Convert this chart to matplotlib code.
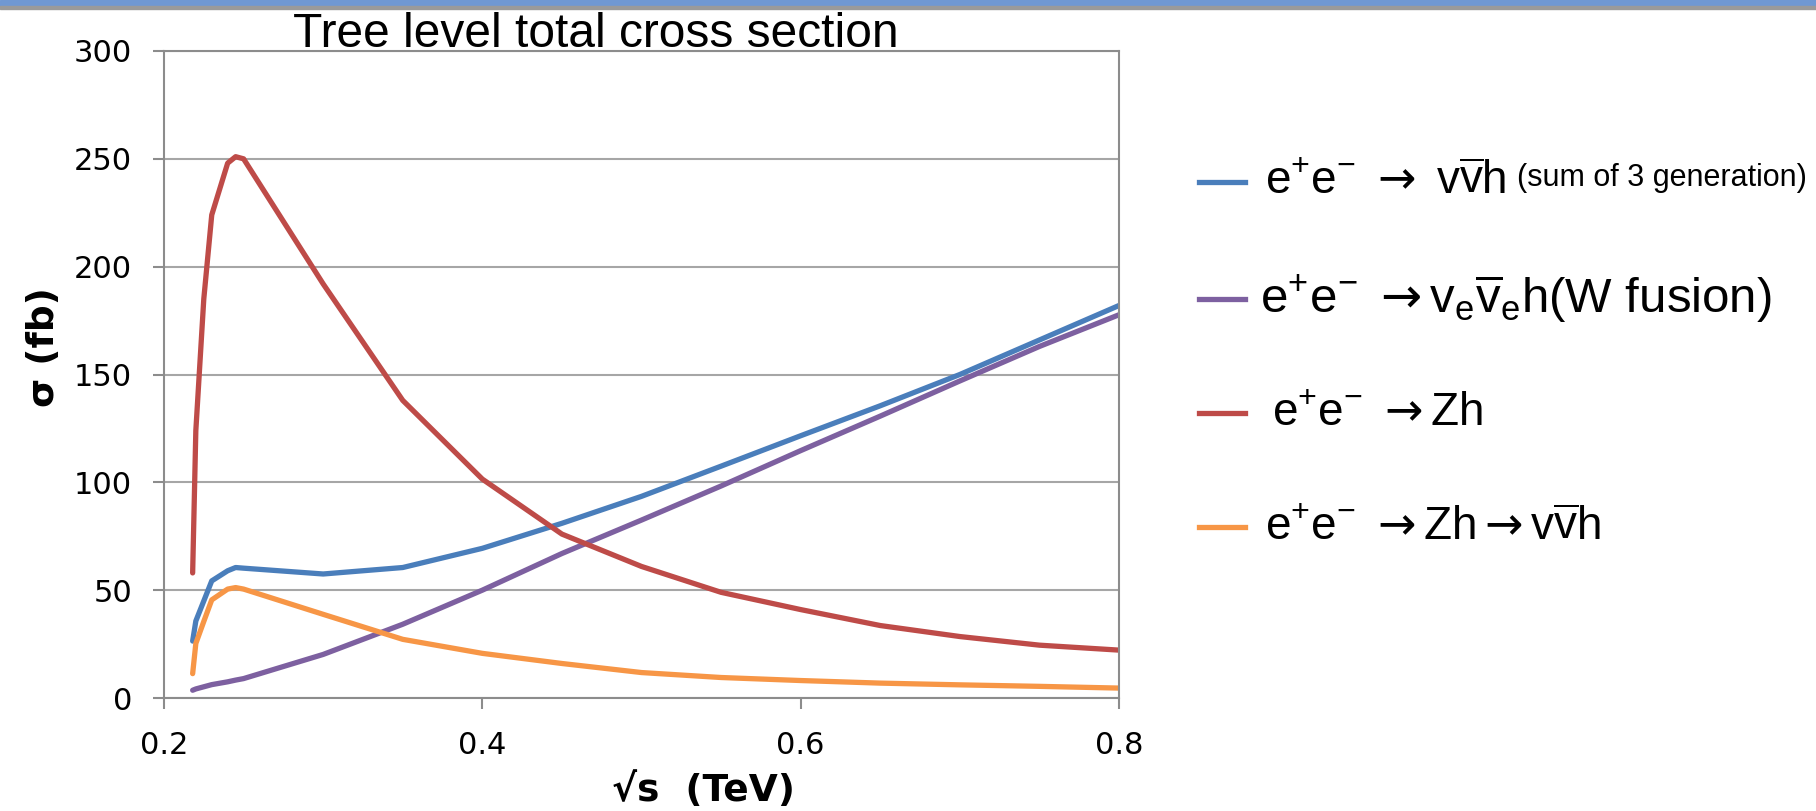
import matplotlib.pyplot as plt
from matplotlib.lines import Line2D
from matplotlib.patches import Rectangle

plt.rcParams['font.family'] = 'DejaVu Sans'
plt.rcParams['mathtext.fontset'] = 'custom'
plt.rcParams['mathtext.rm'] = 'DejaVu Sans'   # arrows
plt.rcParams['mathtext.sf'] = 'Liberation Sans'  # letters and signs
plt.rcParams['mathtext.it'] = 'Liberation Sans:italic'
plt.rcParams['mathtext.bf'] = 'Liberation Sans:bold'

W, H = 1816, 811

# sqrt(s) in TeV
energy = [0.218, 0.22, 0.225, 0.23, 0.24, 0.245, 0.25, 0.3, 0.35, 0.4,
          0.45, 0.5, 0.55, 0.6, 0.65, 0.7, 0.75, 0.8]

# cross sections in fb
nnh_sum = [26.4, 35.7, 45, 54.3, 59, 60.5, 60.2, 57.5, 60.5, 69.4,
           81, 93.5, 107.5, 121.6, 135.5, 150, 166, 182]
w_fusion = [3.6, 4.2, 5.2, 6.2, 7.5, 8.3, 9, 20.2, 34.2, 50,
            67, 82.5, 98.3, 114.7, 130.7, 147, 163, 177.7]
zh = [58, 124, 185, 224, 248, 251, 250, 192, 138, 101.5,
      76, 61, 49, 41, 33.6, 28.5, 24.5, 22.2]
zh_nnh = [11.3, 25.3, 35.5, 45.5, 50.5, 51.2, 50.5, 38.8, 27.2, 20.7,
          16, 11.8, 9.5, 8.1, 6.9, 6.1, 5.4, 4.6]

xticks = [0.2, 0.4, 0.6, 0.8]
yticks = [0, 50, 100, 150, 200, 250, 300]

ee = r'\mathsf{e}^{\mathsf{+}}\mathsf{e}^{\mathsf{-}}'
series = [
    (nnh_sum, '#4A7EBB', r'$%s\ \rightarrow\ \mathsf{v\overline{v}h}$' % ee),
    (w_fusion, '#7D60A0', r'$%s\ \rightarrow \mathsf{v_{e}\overline{v}_{e}h(W\ fusion)}$' % ee),
    (zh, '#BE4B48', r'$%s\ \rightarrow \mathsf{Zh}$' % ee),
    (zh_nnh, '#F79646', r'$%s\ \rightarrow \mathsf{Zh} \rightarrow \mathsf{v\overline{v}h}$' % ee),
]

fig = plt.figure(figsize=(W / 100, H / 100), dpi=100)

# slide header bar
fig.patches.append(Rectangle((0, 1 - 6 / H), 1, 6 / H, transform=fig.transFigure,
                             color='#7098D2', zorder=0))
fig.patches.append(Rectangle((0, 1 - 9 / H), 1, 3 / H, transform=fig.transFigure,
                             color='#9A9A9A', zorder=0))

ax = fig.add_axes([164 / W, 1 - 698 / H, (1119 - 164) / W, (698 - 51) / H])

for y, c, _ in series:
    ax.plot(energy, y, color=c, lw=3.8, solid_capstyle='round', solid_joinstyle='round')

ax.set_xlim(0.2, 0.8)
ax.set_ylim(0, 300)
ax.set_xticks(xticks)
ax.set_xticklabels([f'{t:.1f}' for t in xticks])
ax.set_yticks(yticks)
ax.yaxis.grid(True, color='#A6A6A6', lw=1.5)
ax.set_axisbelow(True)
for s in ax.spines.values():
    s.set_color('#8C8C8C')
    s.set_linewidth(1.5)
ax.tick_params(axis='both', colors='#8C8C8C', length=8, width=1.5,
               labelcolor='black', labelsize=22)
ax.tick_params(axis='y', pad=15)
ax.tick_params(axis='x', pad=16)

fig.text(44 / W, 1 - 347 / H, 'σ (fb)', rotation=90, ha='center', va='center',
         fontsize=27, fontweight='bold')
fig.text(704 / W, 1 - 791 / H, '√s  (TeV)', ha='center', va='center',
         fontsize=27, fontweight='bold')
fig.text(293 / W, 1 - 46.7 / H, 'Tree level total cross section', ha='left',
         va='baseline', fontsize=34.5, family='Liberation Sans')

# legend at the right
rows_y = [182, 299, 413, 527]
text_x = [1265, 1260, 1272, 1265]
text_size = [33, 35.5, 33, 33]
for (_, c, lab), yy, tx, fs in zip(series, rows_y, text_x, text_size):
    fig.add_artist(Line2D([1199 / W, 1245 / W], [1 - yy / H, 1 - yy / H],
                          transform=fig.transFigure, color=c, lw=3.8))
    fig.text(tx / W, 1 - yy / H, lab, ha='left', va='center', fontsize=fs)
fig.text(1517 / W, 1 - 178 / H, '(sum of 3 generation)', ha='left', va='center',
         fontsize=22, family='Liberation Sans')

fig.savefig('out.png', dpi=100)
